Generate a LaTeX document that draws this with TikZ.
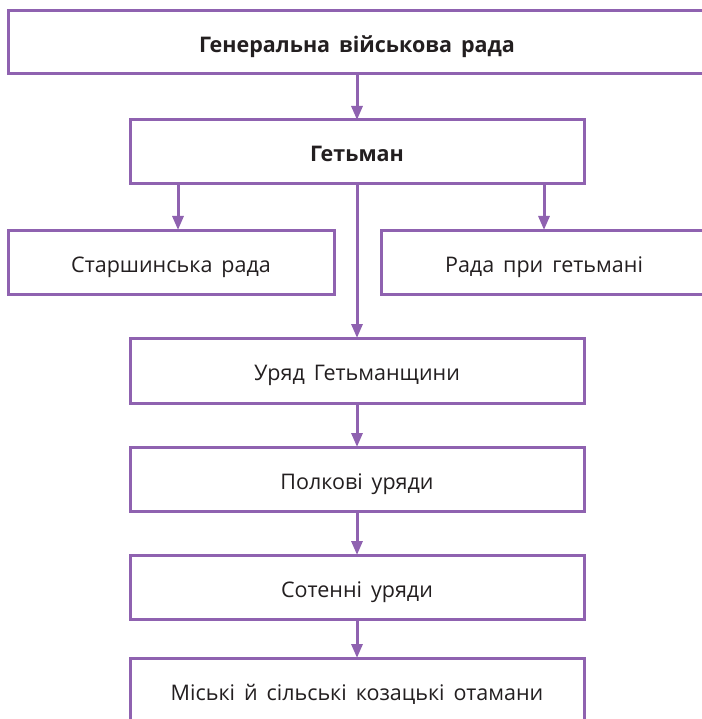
\documentclass[tikz,border=0pt]{standalone}
\usepackage{fontspec}
\setmainfont[WordSpace=1.6]{Open Sans}
\definecolor{hetviolet}{RGB}{143, 98, 176}
\definecolor{txtdark}{RGB}{35, 31, 32}
\usetikzlibrary{arrows.meta, positioning}

\begin{document}
\begin{tikzpicture}[
      x=1pt, y=-1pt,
      node distance=44pt,
      blk/.style={draw=hetviolet, line width=3pt, outer sep=0pt, minimum width=454pt, minimum height=64pt, text height=22pt, text depth=2pt, font=\fontsize{21.5}{25}\selectfont, text=txtdark, fill=white},
      arr/.style={-{Triangle[length=14pt, width=11pt]}, line width=3pt, hetviolet},
    ]
      \useasboundingbox (0,0) rectangle (701,719);

      \node[blk, minimum width=698pt, minimum height=63pt, font=\fontsize{21.5}{25}\selectfont\bfseries] (gvr) at (357,42.5) {Генеральна військова рада};
      \node[blk, below=46pt of gvr, font=\fontsize{21.5}{25}\selectfont\bfseries] (het) {Гетьман};
      \node[blk, minimum width=326pt, below=46pt of het, xshift=-186pt] (str) {Старшинська рада};
      \node[blk, minimum width=326pt, below=46pt of het, xshift=187pt] (rph) {Рада при гетьмані};
      \node[blk, minimum height=65pt, below=154pt of het] (ur) {Уряд Гетьманщини};
      \node[blk, below=of ur] (pol) {Полкові уряди};
      \node[blk, below=of pol] (sot) {Сотенні уряди};
      \node[blk, below=39pt of sot] (mis) {Міські й сільські козацькі отамани};

      \draw[arr] (gvr)--(het);
      \draw[arr] ([xshift=7pt]str.north |- het.south)--([xshift=7pt]str.north);
      \draw[arr] (rph.north |- het.south)--(rph.north);
      \draw[arr] (het)--(ur);
      \draw[arr] (ur)--(pol); \draw[arr] (pol)--(sot);
      \draw[arr] (sot)--(mis);
    \end{tikzpicture}
\end{document}
